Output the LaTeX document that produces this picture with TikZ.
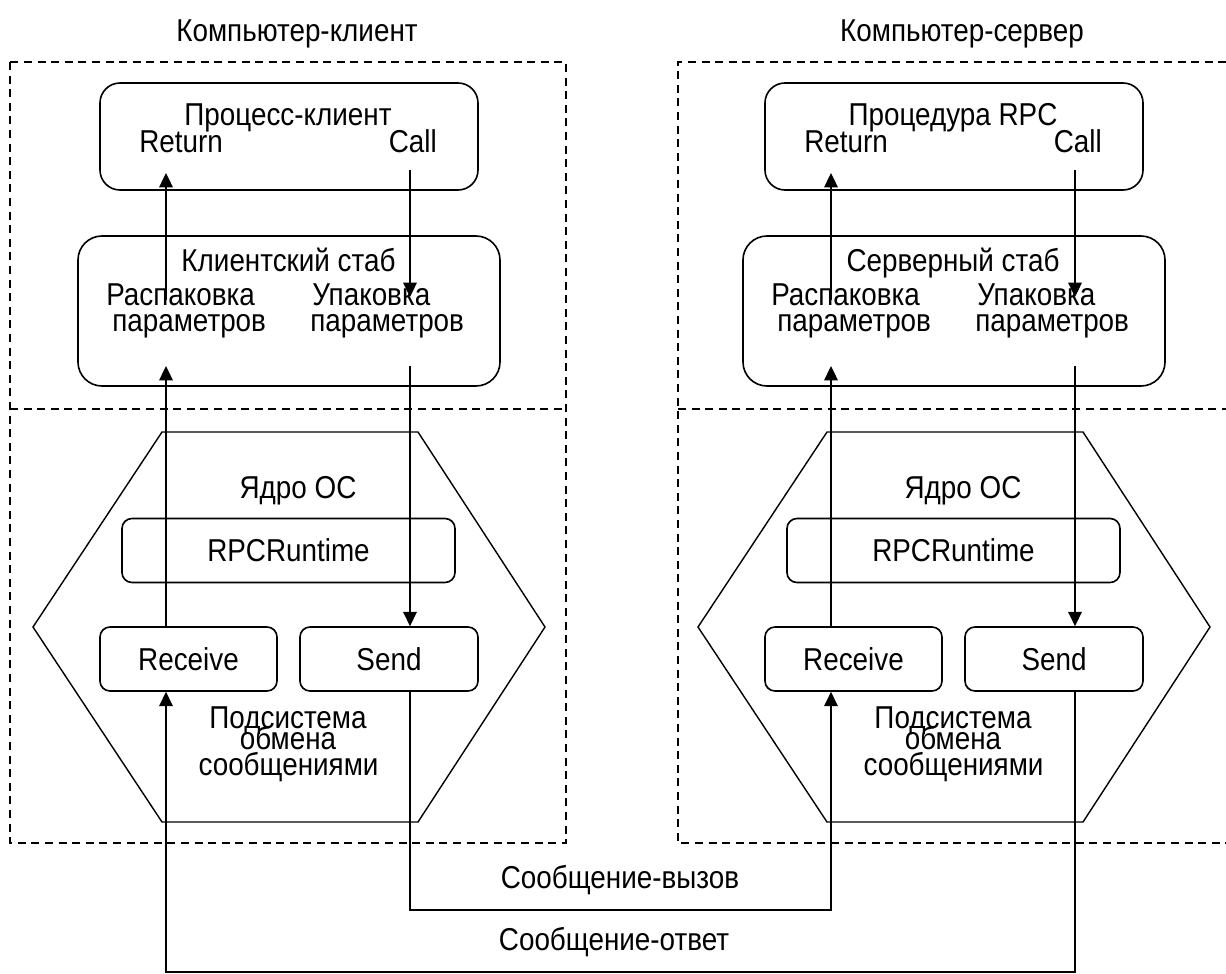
\documentclass[tikz,border=0pt]{standalone}
\usepackage{fontspec}
\setmainfont[FakeStretch=0.88]{Liberation Sans}
\usetikzlibrary{arrows.meta,positioning}

\begin{document}
\begin{tikzpicture}[
  x=0.25mm, y=-0.25mm,
  txt/.style={font=\fontsize{22.5}{26}\selectfont, inner sep=0pt, anchor=base},
  frame/.style={dash pattern=on 2mm off 1.4mm, line width=0.9pt},
  proc/.style={draw, rounded corners=5mm, line width=1.15pt,
               minimum width=94.5mm, minimum height=26.75mm},
  stub/.style={draw, rounded corners=6mm, line width=1.15pt,
               minimum width=105.5mm, minimum height=37.5mm},
  sbox/.style={draw, rounded corners=2.5mm, line width=1.15pt, minimum height=16mm,
               font=\fontsize{22.5}{26}\selectfont},
  kern/.style={line width=1pt},
  arr/.style={-{Triangle[length=3.6mm,width=3.4mm]}, line width=1.15pt},
]
\useasboundingbox (0,0) rectangle (1226,974);

% lanes and levels
\coordinate (cl-up) at (166,0);
\coordinate (cl-dn) at (410,0);
\coordinate (sv-up) at (831,0);
\coordinate (sv-dn) at (1075,0);
\coordinate (proctip) at (0,173);
\coordinate (procout) at (0,170);
\coordinate (stubtxt) at (0,300);
\coordinate (stubtip) at (0,297);
\coordinate (stubbot) at (0,366);
\coordinate (callbus) at (0,910);
\coordinate (replybus) at (0,972);

% Client computer
\node[txt] (cl-title) at (297,41.5) {Компьютер-клиент};
\draw[frame] (10,62) rectangle (566,843);
\draw[frame] (10,409) -- (566,409);

\node[proc] (cl-proc) at (289,136.5) {};
\node[txt] (cl-proc-lbl) at (288,125) {Процесс-клиент};
\node[txt, anchor=base west] (cl-ret) at (139,152.5) {Return};
\node[txt, anchor=base east] (cl-call) at (437,152.5) {Call};

\node[stub] (cl-stub) at (289,311) {};
\node[txt] (cl-stub-lbl) at (288.5,271.5) {Клиентский стаб};
\node[txt, anchor=base west] (cl-unp1) at (106,305) {Распаковка};
\node[txt, anchor=base west] (cl-unp2) at (112,331.5) {параметров};
\node[txt, anchor=base west] (cl-pk1) at (312,305) {Упаковка};
\node[txt, anchor=base west] (cl-pk2) at (310,331.5) {параметров};

\draw[kern] (162,432) -- (418,432) -- (545,627) -- (418,822) -- (162,822) -- (33,627) -- cycle;
\node[txt] (cl-os) at (298,498) {Ядро ОС};
\node[sbox, minimum width=83.25mm] (cl-rt) at (288.5,550.5) {RPCRuntime};
\node[sbox, minimum width=44.25mm] (cl-recv) at (188.5,659) {Receive};
\node[sbox, minimum width=44.5mm] (cl-send) at (389,659) {Send};
\node[txt] (cl-sub1) at (288,728) {Подсистема};
\node[txt] (cl-sub2) at (288,749) {обмена};
\node[txt] (cl-sub3) at (288.5,775.5) {сообщениями};

% Server computer
\node[txt] (sv-title) at (962,41.5) {Компьютер-сервер};
\draw[frame] (1240,62) -- (678,62) -- (678,843) -- (1240,843);
\draw[frame] (678,409) -- (1240,409);

\node[proc] (sv-proc) at (954,136.5) {};
\node[txt] (sv-proc-lbl) at (953,125) {Процедура RPC};
\node[txt, anchor=base west] (sv-ret) at (804,152.5) {Return};
\node[txt, anchor=base east] (sv-call) at (1102,152.5) {Call};

\node[stub] (sv-stub) at (954,311) {};
\node[txt] (sv-stub-lbl) at (953,271.5) {Серверный стаб};
\node[txt, anchor=base west] (sv-unp1) at (771,305) {Распаковка};
\node[txt, anchor=base west] (sv-unp2) at (777,331.5) {параметров};
\node[txt, anchor=base west] (sv-pk1) at (977,305) {Упаковка};
\node[txt, anchor=base west] (sv-pk2) at (975,331.5) {параметров};

\draw[kern] (827,432) -- (1083,432) -- (1210,627) -- (1083,822) -- (827,822) -- (698,627) -- cycle;
\node[txt] (sv-os) at (963,498) {Ядро ОС};
\node[sbox, minimum width=83.25mm] (sv-rt) at (953.5,550.5) {RPCRuntime};
\node[sbox, minimum width=44.25mm] (sv-recv) at (853.5,659) {Receive};
\node[sbox, minimum width=44.5mm] (sv-send) at (1054,659) {Send};
\node[txt] (sv-sub1) at (953,728) {Подсистема};
\node[txt] (sv-sub2) at (953,749) {обмена};
\node[txt] (sv-sub3) at (953.5,775.5) {сообщениями};

% Messages
\node[txt] (msg-call) at (620,888) {Сообщение-вызов};
\node[txt] (msg-reply) at (614,950) {Сообщение-ответ};

% Arrows
\draw[arr] (cl-up |- stubtxt) -- (cl-up |- proctip);
\draw[arr] (cl-dn |- procout) -- (cl-dn |- stubtip);
\draw[arr] (cl-recv.north -| cl-up) -- (cl-up |- stubbot);
\draw[arr] (cl-dn |- stubbot) -- (cl-send.north -| cl-dn);
\draw[arr] (sv-up |- stubtxt) -- (sv-up |- proctip);
\draw[arr] (sv-dn |- procout) -- (sv-dn |- stubtip);
\draw[arr] (sv-recv.north -| sv-up) -- (sv-up |- stubbot);
\draw[arr] (sv-dn |- stubbot) -- (sv-send.north -| sv-dn);
\draw[arr] (cl-send.south -| cl-dn) -- (cl-dn |- callbus) -- (sv-up |- callbus) -- (sv-recv.south -| sv-up);
\draw[arr] (sv-send.south -| sv-dn) -- (sv-dn |- replybus) -- (cl-up |- replybus) -- (cl-recv.south -| cl-up);

\end{tikzpicture}
\end{document}
